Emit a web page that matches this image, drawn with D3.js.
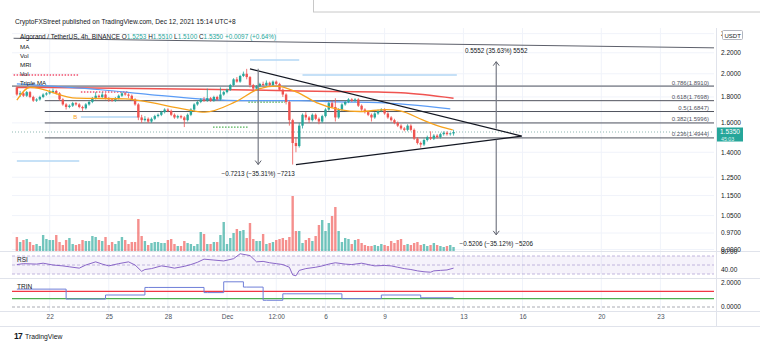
<!DOCTYPE html>
<html><head><meta charset="utf-8">
<script src="https://cdn.jsdelivr.net/npm/d3@7"></script>
<style>
body{margin:0;background:#fff;}
svg{display:block;font-family:"Liberation Sans",Arial,sans-serif;}
</style></head>
<body><svg id="c" width="760" height="359"></svg>
<script>
// ---------------- DATA ----------------
const candleStart = "2021-11-20 08:00"; // 4h candles
const firstOpen = 1.88;
const closes = [
1.82,1.83,1.81,1.84,
1.80,1.77,1.78,1.80,1.82,1.83,
1.84,1.85,1.83,1.78,1.74,1.72,
1.73,1.75,1.74,1.72,1.71,1.74,
1.76,1.79,1.81,1.80,1.82,1.79,
1.78,1.77,1.79,1.81,1.83,1.82,
1.81,1.78,1.74,1.64,1.62,1.63,
1.61,1.63,1.65,1.66,1.68,1.70,
1.69,1.66,1.64,1.65,1.64,1.62,
1.66,1.70,1.74,1.76,1.78,1.77,
1.79,1.77,1.80,1.78,1.82,1.84,
1.86,1.90,1.95,1.93,1.98,2.00,
1.97,1.90,1.87,1.89,1.91,1.90,
1.92,1.90,1.93,1.91,1.86,1.82,
1.76,1.62,1.46,1.44,1.58,1.66,
1.64,1.62,1.66,1.63,1.61,1.65,
1.70,1.75,1.72,1.64,1.70,1.74,
1.76,1.78,1.77,1.78,1.73,1.70,
1.68,1.66,1.64,1.67,1.69,1.70,
1.67,1.64,1.62,1.60,1.58,1.56,
1.55,1.58,1.55,1.49,1.46,1.45,
1.48,1.50,1.49,1.51,1.50,1.52,
1.53,1.52,1.5253,1.535];
const highs = [
1.89,1.85,1.84,1.85,
1.85,1.81,1.79,1.81,1.83,1.84,
1.86,1.87,1.86,1.84,1.79,1.75,
1.74,1.76,1.76,1.75,1.73,1.75,
1.77,1.80,1.84,1.82,1.84,1.83,
1.80,1.79,1.80,1.82,1.84,1.84,
1.83,1.82,1.79,1.75,1.66,1.65,
1.64,1.64,1.66,1.67,1.69,1.71,
1.71,1.70,1.67,1.66,1.66,1.65,
1.67,1.71,1.75,1.77,1.79,1.80,
1.87,1.80,1.81,1.81,1.88,1.85,
1.87,1.91,1.96,1.97,1.99,2.02,
2.045,1.98,1.91,1.90,1.92,1.93,
1.94,1.93,1.94,1.94,1.92,1.87,
1.83,1.77,1.63,1.50,1.60,1.67,
1.68,1.65,1.67,1.67,1.64,1.66,
1.71,1.76,1.77,1.79,1.71,1.75,
1.77,1.79,1.79,1.79,1.79,1.74,
1.71,1.69,1.67,1.68,1.70,1.71,
1.71,1.68,1.65,1.63,1.61,1.59,
1.57,1.59,1.59,1.56,1.50,1.47,
1.49,1.51,1.54,1.52,1.52,1.53,
1.54,1.54,1.53,1.551];
const lows = [
1.81,1.80,1.80,1.80,
1.79,1.76,1.76,1.77,1.79,1.81,
1.82,1.83,1.82,1.77,1.73,1.70,
1.71,1.72,1.73,1.71,1.69,1.70,
1.73,1.75,1.78,1.79,1.79,1.78,
1.76,1.76,1.76,1.78,1.80,1.81,
1.79,1.77,1.73,1.62,1.60,1.61,
1.60,1.60,1.62,1.64,1.65,1.67,
1.68,1.65,1.63,1.63,1.63,1.57,
1.61,1.65,1.69,1.73,1.75,1.76,
1.76,1.76,1.76,1.77,1.77,1.81,
1.83,1.85,1.89,1.92,1.92,1.97,
1.95,1.88,1.85,1.86,1.88,1.89,
1.89,1.89,1.89,1.90,1.85,1.80,
1.74,1.58,1.324,1.40,1.43,1.56,
1.62,1.60,1.61,1.62,1.59,1.60,
1.64,1.69,1.71,1.61,1.63,1.69,
1.73,1.75,1.76,1.76,1.72,1.69,
1.67,1.65,1.61,1.63,1.66,1.68,
1.66,1.63,1.61,1.59,1.57,1.55,
1.54,1.54,1.54,1.48,1.45,1.43,
1.44,1.47,1.48,1.48,1.49,1.49,
1.51,1.51,1.51,1.51];
const volumes = [
14,9,11,12,9,6,7,5,16,12,11,11,16,9,6,11,13,7,6,7,11,10,10,15,14,11,10,14,6,9,
7,10,14,11,7,9,9,32,15,10,6,8,9,9,8,8,11,12,7,5,5,10,8,7,5,7,19,17,7,7,
9,9,16,29,7,13,18,22,20,21,13,28,12,10,10,17,7,8,9,11,12,13,11,14,55,20,20,8,11,13,
10,15,26,31,20,28,35,44,20,9,13,12,7,11,12,8,6,5,5,6,
5,7,6,5,10,8,11,12,6,7,6,8,9,6,7,5,6,8,6,5,4,5,6,4];

const redMaTimes = ["2021-11-20 08:00","2021-11-29 16:00","2021-12-04 16:00","2021-12-08 16:00","2021-12-09 20:00","2021-12-12 12:00"];
const redMaValues = [1.88,1.865,1.85,1.84,1.835,1.79];
const blueMaTimes = ["2021-11-20 08:00","2021-11-24 14:00","2021-11-27 02:00","2021-11-29 14:00","2021-12-02 03:00","2021-12-04 15:00","2021-12-06 16:00","2021-12-08 16:00","2021-12-12 08:00"];
const blueMaValues = [1.91,1.86,1.82,1.785,1.77,1.77,1.76,1.755,1.705];
const orangeMaTimes = ["2021-11-20 08:00","2021-11-21 00:00","2021-11-23 09:00","2021-11-25 20:00","2021-11-26 14:00","2021-11-28 23:00","2021-11-29 21:00","2021-12-01 10:00","2021-12-02 16:00","2021-12-03 12:00","2021-12-04 13:00","2021-12-05 13:00","2021-12-06 17:00","2021-12-07 18:00","2021-12-09 02:00","2021-12-09 19:00","2021-12-10 23:00","2021-12-11 19:00","2021-12-12 11:00"];
const orangeMaValues = [1.775,1.88,1.79,1.785,1.77,1.70,1.68,1.76,1.87,1.89,1.84,1.755,1.70,1.685,1.70,1.69,1.62,1.575,1.55];

const fibLevels = ["0.786","0.618","0.5","0.382","0.236"];
const fibPrices = [1.8910,1.7698,1.6847,1.5996,1.4944];
const fibStart = "2021-11-21 18:00";

const priceTicks = [2.4,2.2,2.0,1.8,1.6,1.4,1.25,1.15,1.05,0.97,0.90];
const lastPrice = 1.535;
const timeTickDates = ["2021-11-22 00:00","2021-11-25 00:00","2021-11-28 00:00","2021-12-01 00:00","2021-12-03 12:00","2021-12-06 00:00","2021-12-09 00:00","2021-12-13 00:00","2021-12-16 00:00","2021-12-20 00:00","2021-12-23 00:00"];
const timeTickLabels = ["22","25","28","Dec","12:00","6","9","13","16","20","23"];

const trendLine = [["2021-11-20 04:00",2.35],["2021-12-25 18:00",2.25]];
const triUpper = [["2021-12-02 04:00",2.045],["2021-12-15 23:00",1.507]];
const triLower = [["2021-12-04 12:00",1.324],["2021-12-15 23:00",1.507]];
const measures = [
  {t:"2021-12-02 14:00", from:2.045, to:1.324, label:"\u22120.7213 (\u221235.31%) \u22127213"},
  {t:"2021-12-14 16:00", from:1.558, to:2.113, label:"0.5552 (35.63%) 5552"},
  {t:"2021-12-14 16:00", from:1.482, to:0.962, label:"\u22120.5206 (\u221235.12%) \u22125206"}
];
// horizontal level segments [start, end, price, colour-kind]
const segStarts = ["2021-11-20 04:00","2021-11-23 14:00","2021-11-30 07:00","2021-12-02 02:00","2021-12-02 04:00","2021-12-04 20:00","2021-11-23 14:00","2021-11-20 08:00"];
const segEnds   = ["2021-11-23 12:00","2021-11-25 23:00","2021-12-02 02:00","2021-12-03 23:00","2021-12-04 16:00","2021-12-12 16:00","2021-11-26 12:00","2021-11-23 12:00"];
const segPrices = [1.989,1.841,1.570,1.759,2.129,1.989,1.643,1.345];
const segKinds  = ["reddot","reddot","greendot","greendot","blue","blue","blue","blue"];

const rsiIdx = [0,2,6,8,11,14,16,19,21,24,26,28,31,34,36,38,39,41,44,46,48,51,53,55,57,60,63,66,68,71,73,75,77,79,81,83,84,85,86,88,91,93,95,97,100,102,105,107,109,112,114,116,118,120,122,124,126,127,129,131,133];
const rsiVal = [51,53,52,54,50,48,46,43,50,57,52,48,53,57,50,36,40,42,48,46,43,47,51,56,63,61,59,64,75,71,57,58,55,53,51,45,28,26,38,42,45,48,52,55,52,51,54,51,48,49,48,45,42,40,37,35,34,37,38,39,43];

const trinStartIdx = [0,16,28,40,58,64,70,76,82,100,112,124];
const trinEndIdx   = [15,27,39,57,63,69,75,81,99,111,123,133];
const trinVal      = [1.49,0.66,1.0,1.63,1.2,2.1,1.66,0.56,1.1,0.7,1.0,0.77];
const trinUpper = 1.3, trinLower = 0.7;

// ---------------- SETUP ----------------
const parse = d3.timeParse("%Y-%m-%d %H:%M");
const svg = d3.select("#c");
const L = 12, R = 714, mainTop = 28, mainBot = 251;
const rsiTop = 252, rsiBot = 278, trinTop = 279, trinBot = 311;
const up = "#26a69a", dn = "#ef5350";

const x = d3.scaleTime().domain([parse("2021-11-22 00:00"), parse("2021-12-23 00:00")]).range([49.7, 660.4]);
const y = d3.scaleLog().domain([0.894, 2.44]).range([mainBot, 30]);
const yv = d3.scaleLinear().domain([0, 100]).range([mainBot, 151]);
const yr = d3.scaleLinear().domain([30, 70]).range([274, 256]);
const yt = d3.scaleLinear().domain([0, 2]).range([307, 283]);

const t0 = parse(candleStart);
const candles = closes.map((c, i) => ({
  t: d3.timeHour.offset(t0, 4 * i),
  o: i === 0 ? firstOpen : closes[i - 1], h: highs[i], l: lows[i], c: c, v: volumes[i]
}));

svg.append("rect").attr("width", 760).attr("height", 359).attr("fill", "#fff");
svg.append("defs").append("clipPath").attr("id", "mainclip").append("rect")
  .attr("x", L).attr("y", mainTop).attr("width", R - L).attr("height", mainBot - mainTop);

// grid
const grid = svg.append("g");
timeTickDates.forEach(d => {
  grid.append("line").attr("x1", x(parse(d))).attr("x2", x(parse(d))).attr("y1", mainTop).attr("y2", trinBot)
    .attr("stroke", "#f0f3fa").attr("stroke-width", 1);
});
priceTicks.forEach(p => {
  grid.append("line").attr("x1", L).attr("x2", R).attr("y1", y(p)).attr("y2", y(p))
    .attr("stroke", "#f0f3fa").attr("stroke-width", 1);
});

// pane separators & axes lines
const sep = svg.append("g").attr("stroke", "#e0e3eb").attr("stroke-width", 1);
sep.append("line").attr("x1", 0).attr("x2", 760).attr("y1", rsiTop - 0.5).attr("y2", rsiTop - 0.5);
sep.append("line").attr("x1", 0).attr("x2", 760).attr("y1", trinTop - 0.5).attr("y2", trinTop - 0.5);
sep.append("line").attr("x1", 0).attr("x2", 760).attr("y1", trinBot + 0.5).attr("y2", trinBot + 0.5);
sep.append("line").attr("x1", R + 2.5).attr("x2", R + 2.5).attr("y1", mainTop).attr("y2", 326);
sep.append("line").attr("x1", 0).attr("x2", 760).attr("y1", 326.5).attr("y2", 326.5);

// top-right box
svg.append("rect").attr("x", 313.5).attr("y", -1).attr("width", 460).attr("height", 13)
  .attr("fill", "none").attr("stroke", "#c8c8c8");

const main = svg.append("g").attr("clip-path", "url(#mainclip)");

// volume
main.append("g").selectAll("rect").data(candles).join("rect")
  .attr("x", d => x(d.t) - 1.2).attr("width", 2.4)
  .attr("y", d => yv(d.v)).attr("height", d => yv(0) - yv(d.v))
  .attr("fill", d => d.c >= d.o ? up : dn).attr("opacity", 0.65);

// fib lines
fibPrices.forEach((p, i) => {
  const x1 = i === 0 ? L : x(parse(fibStart));
  main.append("line").attr("x1", x1).attr("x2", R).attr("y1", y(p)).attr("y2", y(p))
    .attr("stroke", i === 0 ? "#9598a1" : "#50535e").attr("stroke-width", i === 0 ? 1.6 : 1);
  svg.append("text").attr("x", R - 5).attr("y", y(p) - 1.5).attr("text-anchor", "end")
    .attr("font-size", 6).attr("fill", "#50535e").text(`${fibLevels[i]}(${p.toFixed(4)})`);
});

// last price dotted
main.append("line").attr("x1", L).attr("x2", R).attr("y1", y(lastPrice)).attr("y2", y(lastPrice))
  .attr("stroke", "#8fb8b3").attr("stroke-width", 1).attr("stroke-dasharray", "1,2");

// level segments
segPrices.forEach((p, i) => {
  const k = segKinds[i];
  main.append("line").attr("x1", x(parse(segStarts[i]))).attr("x2", x(parse(segEnds[i])))
    .attr("y1", y(p)).attr("y2", y(p))
    .attr("stroke", k === "reddot" ? "#f0506e" : k === "greendot" ? "#4caf50" : "#b3d7f5")
    .attr("stroke-width", k === "blue" ? 1.5 : 1.3)
    .attr("stroke-dasharray", k === "blue" ? null : "1.5,1.5");
});

// MAs
const lineGen = d3.line().x(d => x(d[0])).y(d => y(d[1])).curve(d3.curveMonotoneX);
function drawMA(times, vals, color, w) {
  main.append("path").datum(times.map((t, i) => [parse(t), vals[i]]))
    .attr("d", lineGen).attr("fill", "none").attr("stroke", color).attr("stroke-width", w);
}
drawMA(redMaTimes, redMaValues, "#ef5350", 1.5);
drawMA(blueMaTimes, blueMaValues, "#5b9cf6", 1.2);

// candles
const cg = main.append("g");
cg.selectAll("line").data(candles).join("line")
  .attr("x1", d => x(d.t)).attr("x2", d => x(d.t))
  .attr("y1", d => y(d.h)).attr("y2", d => y(d.l))
  .attr("stroke", d => d.c >= d.o ? up : dn).attr("stroke-width", 0.8);
cg.selectAll("rect").data(candles).join("rect")
  .attr("x", d => x(d.t) - 1.2).attr("width", 2.4)
  .attr("y", d => y(Math.max(d.o, d.c)))
  .attr("height", d => Math.max(0.8, Math.abs(y(d.o) - y(d.c))))
  .attr("fill", d => d.c >= d.o ? up : dn);

drawMA(orangeMaTimes, orangeMaValues, "#f7a21b", 1.3);

// "B" marker
main.append("text").attr("x", x(parse("2021-11-23 07:00"))).attr("y", y(1.64) + 2)
  .attr("font-size", 6).attr("fill", "#f7a21b").attr("text-anchor", "middle").text("B");

// trend line & triangle
const pl = d3.line().x(d => x(parse(d[0]))).y(d => y(d[1]));
main.append("path").datum(trendLine).attr("d", pl).attr("stroke", "#5d606b").attr("stroke-width", 1).attr("fill", "none");
main.append("path").datum(triUpper).attr("d", pl).attr("stroke", "#131722").attr("stroke-width", 1.3).attr("fill", "none");
main.append("path").datum(triLower).attr("d", pl).attr("stroke", "#131722").attr("stroke-width", 1.3).attr("fill", "none");

// measures
measures.forEach(m => {
  const mx = x(parse(m.t)), y1 = y(m.from), y2 = y(m.to);
  const dir = y2 > y1 ? 1 : -1;
  svg.append("line").attr("x1", mx).attr("x2", mx).attr("y1", y1).attr("y2", y2)
    .attr("stroke", "#787b86").attr("stroke-width", 1.2);
  svg.append("path").attr("d", `M${mx - 3},${y2 - dir * 4}L${mx},${y2}L${mx + 3},${y2 - dir * 4}`)
    .attr("stroke", "#5d606b").attr("fill", "none").attr("stroke-width", 1);
  svg.append("text").attr("x", mx).attr("y", dir > 0 ? y2 + 11 : y2 - 9)
    .attr("text-anchor", "middle").attr("font-size", 6.3).attr("fill", "#131722").text(m.label);
});

// RSI pane
svg.append("rect").attr("x", L).attr("width", R - L).attr("y", yr(70)).attr("height", yr(30) - yr(70))
  .attr("fill", "#7e57c2").attr("opacity", 0.08);
[70, 50, 30].forEach(v => svg.append("line").attr("x1", L).attr("x2", R).attr("y1", yr(v)).attr("y2", yr(v))
  .attr("stroke", "#b2a4d6").attr("stroke-dasharray", "3,2").attr("stroke-width", 0.8));
svg.append("path").datum(rsiIdx.map((k, i) => [candles[k].t, rsiVal[i]]))
  .attr("d", d3.line().x(d => x(d[0])).y(d => yr(d[1])))
  .attr("fill", "none").attr("stroke", "#7e57c2").attr("stroke-width", 0.9);

// TRIN pane
svg.append("line").attr("x1", L).attr("x2", R).attr("y1", yt(0)).attr("y2", yt(0))
  .attr("stroke", "#9598a1").attr("stroke-dasharray", "3,2").attr("stroke-width", 0.8);
svg.append("line").attr("x1", L).attr("x2", R).attr("y1", yt(trinUpper)).attr("y2", yt(trinUpper))
  .attr("stroke", "#f23645").attr("stroke-width", 1.2);
svg.append("line").attr("x1", L).attr("x2", R).attr("y1", yt(trinLower)).attr("y2", yt(trinLower))
  .attr("stroke", "#4caf50").attr("stroke-width", 1.2);
const trinPts = [];
trinVal.forEach((v, i) => {
  trinPts.push([candles[trinStartIdx[i]].t, v]);
  trinPts.push([candles[trinEndIdx[i]].t, v]);
});
svg.append("path").datum(trinPts)
  .attr("d", d3.line().x(d => x(d[0])).y(d => yt(d[1])).curve(d3.curveStepBefore))
  .attr("fill", "none").attr("stroke", "#6f7fd8").attr("stroke-width", 1);

// pane labels
const lab = (tx, xx, yy, sz, col) => svg.append("text").attr("x", xx).attr("y", yy).attr("font-size", sz).attr("fill", col || "#131722").text(tx);
lab("RSI", 17, 262, 6.5);
lab("TRIN", 17, 289, 6.5);

// right axis
const ax = svg.append("g").attr("font-size", 6.5).attr("fill", "#131722");
priceTicks.forEach(p => ax.append("text").attr("x", 721).attr("y", y(p) + 2.3).text(p.toFixed(4)));
ax.append("text").attr("x", 721).attr("y", yr(80) + 2.3).text("80.00");
ax.append("text").attr("x", 721).attr("y", yr(40) + 2.3).text("40.00");
ax.append("text").attr("x", 721).attr("y", yt(2) + 2.3).text("2.0000");
ax.append("text").attr("x", 721).attr("y", yt(0) + 2.3).text("0.0000");
svg.append("rect").attr("x", 722.5).attr("y", 30.5).attr("width", 20).attr("height", 9)
  .attr("fill", "#fff").attr("stroke", "#b2b5be").attr("rx", 1);
lab("USDT", 724.5, 37.5, 6, "#131722");
// last price tag
svg.append("rect").attr("x", 717).attr("y", y(lastPrice) - 4.5).attr("width", 26).attr("height", 14).attr("fill", up);
lab(lastPrice.toFixed(4), 720, y(lastPrice) + 2, 6.5, "#fff");
lab("45:03", 721, y(lastPrice) + 8.5, 5.3, "#d9f2ef");

// bottom axis
const bx = d3.axisBottom(x).tickValues(timeTickDates.map(parse)).tickFormat((d, i) => timeTickLabels[i]).tickSize(0).tickPadding(0);
const bg = svg.append("g").attr("transform", "translate(0,314)").call(bx);
bg.select(".domain").remove();
bg.selectAll("text").attr("font-size", 6.5).attr("fill", "#4c525e").attr("dy", "0.71em")
  .attr("font-family", "Liberation Sans, Arial, sans-serif");

// header & legend
lab("CryptoFXStreet published on TradingView.com, Dec 12, 2021 15:14 UTC+8", 15, 24, 6.6, "#131722");
const lg = svg.append("text").attr("x", 20).attr("y", 38.5).attr("font-size", 6.4).attr("fill", "#131722");
lg.append("tspan").text("Algorand / TetherUS, 4h, BINANCE  ");
[["O", "1.5253"], ["H", "1.5510"], ["L", "1.5100"], ["C", "1.5350"]].forEach(([k, v]) => {
  lg.append("tspan").text(k);
  lg.append("tspan").attr("fill", up).text(v + "  ");
});
lg.append("tspan").attr("fill", up).text("+0.0097 (+0.64%)");
["MA", "Vol", "MRI", "Vol", "Triple MA"].forEach((t, i) => lab(t, 20, 48.5 + i * 9.2, 6.2, "#131722"));

// footer logo
lab("17", 14, 339, 8.5, "#131722").attr("font-weight", 900).attr("letter-spacing", -0.8);
lab("TradingView", 25, 339, 6.8, "#131722");
</script></body></html>
